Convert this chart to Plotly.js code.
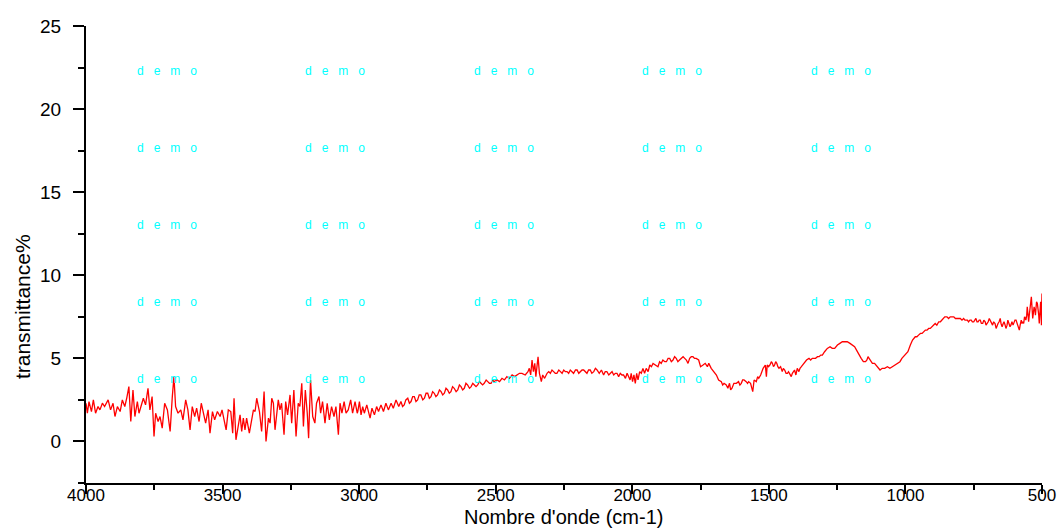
<!DOCTYPE html>
<html>
<head>
<meta charset="utf-8">
<script src="https://cdn.plot.ly/plotly-3.0.1.min.js"></script>
<style>
  html, body { margin: 0; padding: 0; background: #ffffff; }
  #chart { width: 1064px; height: 531px; }
</style>
</head>
<body>
<div id="chart"></div>
<script>
// Spectrum: [wavenumber (cm-1), transmittance %]
const seg4000_3500 = [[4000,2.3],[3995,1.7],[3989,2.4],[3980,1.8],[3973,2.5],[3965,1.7],[3956,2.1],[3949,1.9],[3940,2.3],[3932,2.1],[3919,2.5],[3910,1.9],[3901,2.3],[3894,1.5],[3885,2.1],[3875,1.8],[3867,2.5],[3858,2.1],[3851,2.6],[3843,3.3],[3836,1.2],[3828,3.1],[3821,1.5],[3812,2.4],[3806,1.7],[3797,2.3],[3790,2.6],[3782,2.2],[3773,3.2],[3766,1.9],[3758,2.7],[3751,0.3],[3745,1.7],[3736,1.2],[3729,1.5],[3721,0.8],[3712,2.3],[3702,1.9],[3692,0.6],[3684,2.7],[3678,3.9],[3672,2.1],[3663,1.7],[3653,1.9],[3645,1.3],[3635,2.5],[3627,1.9],[3619,0.7],[3611,2.1],[3602,1.5],[3595,2.0],[3586,1.2],[3578,2.3],[3570,1.7],[3562,1.1],[3553,1.9],[3546,0.5],[3537,1.8],[3529,1.3],[3519,1.8],[3509,1.5],[3502,1.9]];
const seg3500_3000 = [[3495,1.3],[3487,0.7],[3479,1.9],[3470,1.8],[3463,0.5],[3458,2.6],[3451,0.1],[3442,1.1],[3436,1.6],[3430,0.6],[3424,1.4],[3418,0.7],[3412,1.4],[3402,0.5],[3393,1.3],[3387,1.9],[3381,1.8],[3375,2.6],[3365,1.8],[3357,0.6],[3348,3.0],[3341,0.0],[3332,1.4],[3326,1.1],[3320,2.6],[3314,2.3],[3308,0.7],[3302,1.5],[3296,2.5],[3290,1.9],[3284,2.3],[3275,0.4],[3269,2.4],[3262,1.6],[3253,2.8],[3247,1.1],[3239,3.1],[3231,0.3],[3223,2.3],[3217,2.1],[3210,3.5],[3204,0.9],[3197,3.1],[3190,1.7],[3185,0.2],[3178,3.7],[3170,1.5],[3162,1.1],[3156,2.3],[3147,2.7],[3141,1.7],[3134,2.4],[3125,1.1],[3117,2.3],[3109,1.3],[3101,2.1],[3092,1.5],[3085,2.1],[3076,0.4],[3070,2.3],[3063,1.7],[3055,2.4],[3048,1.7],[3040,1.9],[3031,2.5],[3024,1.7],[3015,2.4],[3007,1.7]];
const seg3000_2500 = [[3005,1.8],[2999,2.4],[2993,1.6],[2987,2.1],[2981,1.7],[2972,2.2],[2965,1.8],[2960,1.4],[2953,2.0],[2944,1.6],[2936,2.1],[2929,1.8],[2920,2.2],[2911,1.8],[2902,2.3],[2893,1.9],[2883,2.3],[2875,2.0],[2865,2.5],[2855,2.1],[2847,2.4],[2841,2.1],[2835,2.2],[2829,2.5],[2822,2.6],[2816,2.3],[2810,2.4],[2804,2.7],[2798,2.7],[2792,2.4],[2786,2.5],[2780,2.8],[2774,2.8],[2767,2.5],[2761,2.6],[2755,2.9],[2749,2.9],[2743,2.6],[2737,2.7],[2731,3.0],[2725,2.9],[2719,2.7],[2713,2.8],[2706,3.1],[2700,3.0],[2694,2.8],[2688,2.9],[2682,3.2],[2676,3.1],[2670,2.9],[2664,3.0],[2658,3.3],[2652,3.2],[2645,3.0],[2639,3.1],[2633,3.4],[2627,3.3],[2621,3.1],[2615,3.2],[2609,3.5],[2603,3.4],[2596,3.2],[2590,3.3],[2584,3.5],[2578,3.4],[2572,3.3],[2566,3.4],[2560,3.6],[2554,3.5],[2548,3.4],[2542,3.5],[2535,3.7],[2529,3.6],[2523,3.5],[2517,3.5],[2511,3.7],[2506,3.6]];
const seg2500_2000 = [[2495,3.7],[2486,3.6],[2477,3.8],[2468,3.7],[2459,3.9],[2450,3.8],[2440,4.0],[2431,3.9],[2422,4.0],[2413,4.1],[2404,4.1],[2392,4.0],[2382,4.2],[2377,4.4],[2372,4.0],[2367,4.9],[2362,4.2],[2357,4.7],[2353,3.9],[2345,5.1],[2340,4.1],[2333,3.6],[2328,4.0],[2321,3.8],[2312,4.1],[2306,4.2],[2300,4.1],[2294,4.3],[2288,4.2],[2282,4.1],[2276,4.1],[2269,4.3],[2263,4.2],[2257,4.1],[2251,4.3],[2245,4.2],[2239,4.2],[2233,4.1],[2227,4.3],[2221,4.2],[2215,4.1],[2208,4.3],[2202,4.3],[2196,4.1],[2190,4.2],[2184,4.3],[2178,4.3],[2172,4.2],[2166,4.1],[2160,4.3],[2154,4.3],[2148,4.1],[2141,4.2],[2135,4.4],[2129,4.3],[2121,4.1],[2113,4.3],[2105,4.0],[2099,4.2],[2093,4.2],[2086,4.0],[2080,4.1],[2074,4.2],[2068,4.0],[2062,4.1],[2056,4.1],[2050,3.9],[2044,4.1],[2038,4.0],[2032,4.0],[2025,3.8],[2019,4.1],[2013,3.9],[2008,3.7]];
const seg2000_1500 = [[2004,4.1],[1999,3.6],[1994,4.0],[1989,3.5],[1984,4.1],[1979,3.7],[1973,4.2],[1967,4.1],[1961,4.4],[1955,4.1],[1949,4.4],[1942,4.2],[1936,4.6],[1930,4.5],[1924,4.7],[1916,4.6],[1906,4.5],[1900,4.8],[1894,4.7],[1888,4.9],[1881,4.8],[1875,4.8],[1869,5.0],[1863,5.0],[1857,4.8],[1851,4.9],[1845,5.1],[1839,5.0],[1833,4.8],[1827,4.9],[1820,5.0],[1814,5.1],[1808,5.0],[1802,4.9],[1796,4.7],[1790,5.0],[1784,5.1],[1778,5.1],[1772,5.0],[1766,5.0],[1757,4.9],[1750,4.5],[1741,4.6],[1733,4.7],[1725,4.5],[1720,4.7],[1711,4.4],[1701,4.2],[1692,4.0],[1684,3.7],[1674,3.6],[1669,3.4],[1664,3.5],[1656,3.4],[1650,3.2],[1644,3.5],[1640,3.1],[1635,3.2],[1628,3.5],[1619,3.5],[1611,3.6],[1606,3.4],[1601,3.5],[1596,3.7],[1591,3.7],[1583,3.6],[1578,3.5],[1574,3.6],[1567,3.5],[1559,3.0],[1554,3.7],[1546,3.6],[1541,3.9],[1537,3.8],[1530,4.0],[1521,4.4],[1513,4.6]];
const seg1500_1000 = [[1509,3.9],[1506,4.6],[1501,4.5],[1496,4.6],[1491,4.8],[1487,4.7],[1483,4.5],[1479,4.6],[1475,4.8],[1471,4.7],[1467,4.5],[1463,4.4],[1457,4.5],[1451,4.2],[1447,4.4],[1442,4.3],[1437,4.1],[1432,4.1],[1428,4.2],[1423,4.0],[1418,3.9],[1414,4.1],[1410,4.2],[1406,4.3],[1401,4.0],[1396,4.4],[1390,4.2],[1386,4.4],[1381,4.5],[1376,4.6],[1371,4.7],[1366,4.8],[1362,4.9],[1353,5.0],[1347,4.9],[1341,5.0],[1335,5.0],[1329,5.0],[1322,5.1],[1316,5.1],[1310,5.2],[1304,5.2],[1296,5.4],[1286,5.6],[1276,5.7],[1268,5.6],[1259,5.6],[1249,5.8],[1240,5.9],[1231,6.0],[1222,6.0],[1213,6.0],[1203,5.9],[1194,5.8],[1186,5.7],[1179,5.5],[1170,5.2],[1162,5.0],[1154,4.8],[1146,4.8],[1141,4.9],[1137,5.1],[1133,5.0],[1130,4.9],[1121,4.7],[1113,4.7],[1103,4.5],[1093,4.3],[1085,4.4],[1076,4.4],[1066,4.5],[1057,4.4],[1048,4.5],[1039,4.6],[1030,4.7],[1020,4.8],[1013,5.0]];
const seg1000_500 = [[1000,5.2],[991,5.4],[982,5.8],[974,6.1],[964,6.3],[958,6.3],[952,6.4],[945,6.5],[939,6.5],[933,6.6],[927,6.7],[921,6.7],[915,6.8],[909,6.8],[903,6.9],[897,7.0],[891,7.1],[885,7.0],[878,7.2],[872,7.2],[866,7.3],[861,7.4],[856,7.5],[852,7.5],[848,7.5],[842,7.4],[836,7.5],[830,7.5],[823,7.5],[817,7.4],[811,7.4],[805,7.4],[799,7.4],[793,7.3],[787,7.4],[782,7.3],[778,7.3],[773,7.3],[769,7.2],[764,7.3],[759,7.3],[755,7.2],[750,7.2],[746,7.3],[742,7.4],[738,7.2],[734,7.2],[730,7.3],[726,7.3],[722,7.1],[717,7.1],[713,7.3],[708,7.2],[705,7.0],[701,7.1],[697,7.2],[693,7.4],[690,7.3],[686,7.2],[681,7.0],[677,7.2],[672,7.1],[668,6.8],[665,7.0],[661,7.1],[657,7.2],[653,7.4],[650,7.1],[646,6.9],[642,7.1],[639,7.2],[635,7.0],[632,6.8],[628,7.0],[625,7.3],[621,7.1],[617,6.9],[614,7.0],[610,7.2],[606,7.0],[603,7.1],[599,7.3],[595,7.3],[591,7.1],[588,7.0],[583,6.7],[580,7.0],[576,7.3],[573,7.1],[570,7.2],[567,7.1],[564,7.5],[561,7.4],[559,7.3],[556,7.6],[554,8.1],[551,7.6],[549,7.2],[546,7.7],[544,8.2],[541,8.4],[539,8.7],[536,8.0],[534,7.4],[531,7.8],[529,8.1],[526,7.9],[524,7.6],[522,8.0],[520,8.4],[517,8.3],[515,8.1],[512,7.6],[510,7.1],[507,7.9],[505,8.4],[503,7.6],[502,7.0],[501,8.2],[500,8.9]];

const segments = [seg4000_3500, seg3500_3000, seg3000_2500, seg2500_2000, seg2000_1500, seg1500_1000, seg1000_500];

// Axis tick values and titles
const xTickVals = [4000, 3500, 3000, 2500, 2000, 1500, 1000, 500];
const yTickVals = [0, 5, 10, 15, 20, 25];
const xTitle = "Nombre d'onde (cm-1)";
const yTitle = 'transmittance%';

// Watermark text
const watermarkText = 'd\u00a0\u00a0\u00a0e\u00a0\u00a0\u00a0m\u00a0\u00a0\u00a0o';

const wn = [], tr = [];
segments.forEach(s => s.forEach(p => { wn.push(p[0]); tr.push(p[1]); }));

const wmX = [0.0847, 0.2605, 0.4372, 0.6130, 0.7897];
const wmY = [0.9015, 0.7330, 0.5646, 0.3960, 0.2276];
const annotations = [];
wmY.forEach(yy => wmX.forEach(xx => {
  annotations.push({
    xref: 'paper', yref: 'paper', x: xx, y: yy,
    xanchor: 'center', yanchor: 'middle', showarrow: false,
    text: watermarkText,
    font: {family: 'Arial, Liberation Sans, sans-serif', size: 12, color: '#00FFFF'}
  });
}));
// axis titles placed where the reference shows them
annotations.push({
  xref: 'paper', yref: 'paper', x: -0.067, y: 0.387,
  xanchor: 'center', yanchor: 'middle', showarrow: false, textangle: -90,
  text: yTitle,
  font: {family: 'Arial, Liberation Sans, sans-serif', size: 21, color: '#000000'}
});
annotations.push({
  xref: 'paper', yref: 'paper', x: 0.499, y: -0.0485,
  xanchor: 'center', yanchor: 'top', showarrow: false, borderpad: 0,
  text: xTitle,
  font: {family: 'Arial, Liberation Sans, sans-serif', size: 20, color: '#000000'}
});

const trace = {
  x: wn, y: tr, type: 'scatter', mode: 'lines',
  line: {color: '#FF0000', width: 1.3},
  hoverinfo: 'skip'
};

const layout = {
  width: 1064, height: 531,
  margin: {l: 86, r: 22, t: 26, b: 48},
  paper_bgcolor: '#ffffff', plot_bgcolor: '#ffffff',
  showlegend: false,
  font: {family: 'Arial, Liberation Sans, sans-serif', color: '#000000'},
  xaxis: {
    range: [4000, 500], autorange: false,
    showgrid: false, zeroline: false,
    showline: true, linecolor: '#000000', linewidth: 2,
    ticks: 'outside', ticklen: 9, tickwidth: 2, tickcolor: '#000000',
    tickmode: 'array', tickvals: xTickVals, ticktext: xTickVals.map(String),
    tickfont: {size: 17, color: '#000000'},
    ticklabelstandoff: -13,
    minor: {dtick: 250, ticks: 'outside', ticklen: 5, tickwidth: 2, tickcolor: '#000000', showgrid: false}
  },
  yaxis: {
    range: [-2.5, 25], autorange: false,
    showgrid: false, zeroline: false,
    showline: true, linecolor: '#000000', linewidth: 2,
    ticks: 'outside', ticklen: 11, tickwidth: 2, tickcolor: '#000000',
    tickmode: 'array', tickvals: yTickVals, ticktext: yTickVals.map(String),
    tickfont: {size: 19, color: '#000000'},
    ticklabelstandoff: 8,
    minor: {dtick: 2.5, ticks: 'outside', ticklen: 6, tickwidth: 2, tickcolor: '#000000', showgrid: false}
  },
  annotations: annotations
};

Plotly.newPlot('chart', [trace], layout, {staticPlot: true, displayModeBar: false});
</script>
</body>
</html>
